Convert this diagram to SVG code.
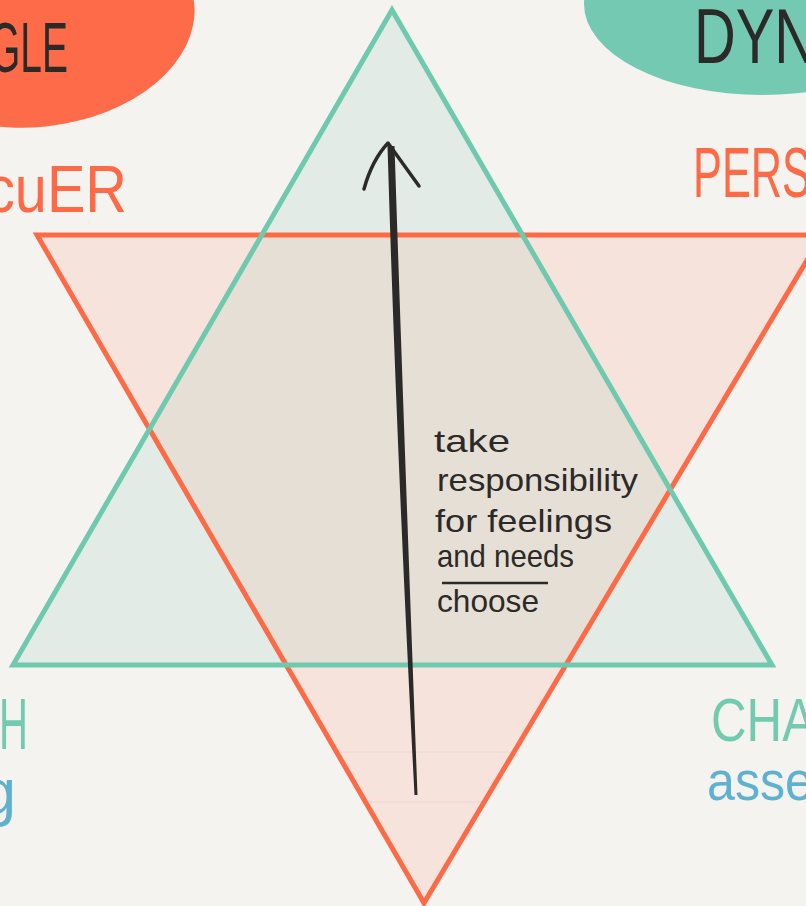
<svg xmlns="http://www.w3.org/2000/svg" width="806" height="906" viewBox="0 0 806 906">
  <style>
    .hand { font-family: "Liberation Sans", Arial, sans-serif; }
    .ink { fill: #2b2a28; }
    .red { fill: #fd6a45; }
    .grn { fill: #72cbb0; }
    .blu { fill: #5fb2cf; }
    .redStroke { fill: none; stroke: #fd6a45; stroke-width: 5; stroke-linejoin: miter; }
    .grnStroke { fill: none; stroke: #6fc9ae; stroke-width: 5; stroke-linejoin: miter; }
    .faint { stroke: #f2d3c9; stroke-width: 1.2; }
  </style>
  <rect x="0" y="0" width="806" height="906" fill="#f4f3ef"/>

  <g id="blob-triangle">
    <ellipse cx="35" cy="20" rx="160" ry="107" transform="rotate(-6 35 20)" fill="#fe6b49"/>
    <text class="hand ink" x="-10" y="72" font-size="70" textLength="78" lengthAdjust="spacingAndGlyphs">GLE</text>
  </g>

  <g id="blob-dynamic">
    <ellipse cx="762" cy="4" rx="178" ry="91" fill="#73c9b1"/>
    <text class="hand ink" x="694" y="63" font-size="78" textLength="122" lengthAdjust="spacingAndGlyphs">DYN</text>
  </g>

  <g id="drama-triangle">
    <polygon points="37,235 822,235 424,903" fill="#f6e3dc"/>
    <line class="faint" x1="340" y1="752" x2="511" y2="752"/>
    <line class="faint" x1="367" y1="802" x2="483" y2="802"/>
  </g>

  <g id="empowerment-triangle">
    <polygon points="392,10 13,665 772,665" fill="#e3ebe6"/>
  </g>

  <g id="overlap">
    <polygon points="262.2,235 522.5,235 670.3,489.6 565.8,665 286.1,665 149.8,429.7" fill="#e6dfd6"/>
  </g>

  <g id="outlines">
    <polygon class="redStroke" points="37,235 822,235 424,903"/>
    <polygon class="grnStroke" points="392,10 13,665 772,665"/>
  </g>

  <g id="label-rescuer">
    <text class="hand red" x="-14" y="212" font-size="66" textLength="141" lengthAdjust="spacingAndGlyphs">cuER</text>
  </g>
  <g id="label-persecutor">
    <text class="hand red" x="693" y="197" font-size="70" textLength="118" lengthAdjust="spacingAndGlyphs">PERS</text>
  </g>
  <g id="label-coach">
    <text class="hand grn" x="-1" y="749" font-size="72" textLength="29" lengthAdjust="spacingAndGlyphs">H</text>
    <text class="hand blu" x="-18" y="814" font-size="64" textLength="34" lengthAdjust="spacingAndGlyphs">g</text>
  </g>
  <g id="label-challenger">
    <text class="hand grn" x="711" y="741" font-size="62" textLength="104" lengthAdjust="spacingAndGlyphs">CHA</text>
    <text class="hand blu" x="707" y="800" font-size="56" textLength="106" lengthAdjust="spacingAndGlyphs">asse</text>
  </g>

  <g id="connectors">
    <path d="M387.5,146 Q396.5,450 414.5,795 L417.5,795 Q404.5,450 394.5,146 Z" fill="#2b2a28"/>
    <path d="M364,189 Q372,160 388,143 L419,186" fill="none" stroke="#2b2a28" stroke-width="3.5" stroke-linecap="round" stroke-linejoin="round"/>
  </g>

  <g id="note" class="hand ink" font-size="32">
    <text x="434" y="452" textLength="76" lengthAdjust="spacingAndGlyphs">take</text>
    <text x="437" y="491" textLength="201" lengthAdjust="spacingAndGlyphs">responsibility</text>
    <text x="435" y="532" textLength="177" lengthAdjust="spacingAndGlyphs">for feelings</text>
    <text x="437" y="567" textLength="137" lengthAdjust="spacingAndGlyphs">and needs</text>
    <line x1="442" y1="583" x2="548" y2="583" stroke="#2b2a28" stroke-width="2.5"/>
    <text x="437" y="612" textLength="102" lengthAdjust="spacingAndGlyphs">choose</text>
  </g>
</svg>
